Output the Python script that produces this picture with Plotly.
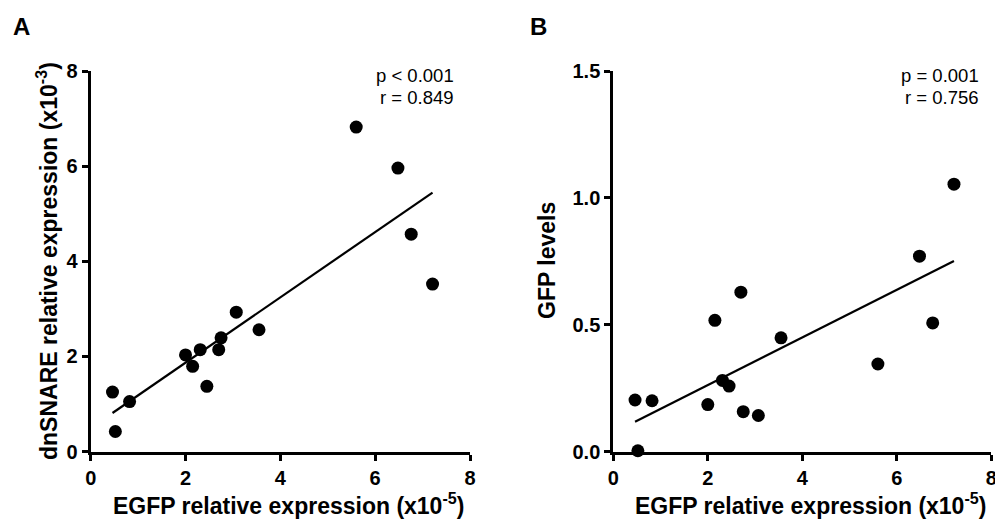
import numpy as np
import plotly.graph_objects as go

# EGFP relative expression (x10^-5), shared by both panels
egfp = [0.46, 0.52, 0.82, 2.00, 2.15, 2.31, 2.45, 2.70, 2.75, 3.07, 3.55, 5.60, 6.48, 6.76, 7.21]
# dnSNARE relative expression (x10^-3)
dnsnare = [1.25, 0.42, 1.05, 2.03, 1.79, 2.14, 1.37, 2.14, 2.39, 2.93, 2.56, 6.82, 5.96, 4.57, 3.52]
# GFP levels
gfp = [0.203, 0.003, 0.200, 0.185, 0.517, 0.280, 0.258, 0.628, 0.157, 0.142, 0.448, 0.345, 0.770, 0.507, 1.054]

stats_a = ["p < 0.001", "r = 0.849"]
stats_b = ["p = 0.001", "r = 0.756"]

FONT = "Liberation Sans, Arial, sans-serif"
W, H = 995, 522

fig = go.Figure()


def add_panel(x, y, xa, ya):
    fig.add_trace(go.Scatter(
        x=x, y=y, mode="markers", xaxis=xa, yaxis=ya,
        marker=dict(size=13, color="black"), cliponaxis=False, showlegend=False))
    slope, icpt = np.polyfit(x, y, 1)
    xs = np.array([min(x), max(x)])
    fig.add_trace(go.Scatter(
        x=xs, y=slope * xs + icpt, mode="lines", xaxis=xa, yaxis=ya,
        line=dict(color="black", width=2.2), showlegend=False))


add_panel(egfp, dnsnare, "x", "y")
add_panel(egfp, gfp, "x2", "y2")

# plot-area bounds in pixels
ax_a = (90.7, 470.0)
ax_b = (613.3, 991.3)
y_top, y_bot = 71.0, 451.5

axis_common = dict(
    showline=True, linecolor="black", linewidth=3,
    ticks="outside", ticklen=6, tickwidth=3, tickcolor="black",
    showgrid=False, zeroline=False, automargin=False, ticklabeloverflow="allow",
    tickfont=dict(family=FONT, size=20, color="black", weight="bold"),
)

ydom = [1 - y_bot / H, 1 - y_top / H]
fig.update_layout(
    width=W, height=H,
    margin=dict(l=0, r=0, t=0, b=0, autoexpand=False),
    paper_bgcolor="white", plot_bgcolor="white",
    font=dict(family=FONT, color="black"),
    xaxis=dict(domain=[ax_a[0] / W, ax_a[1] / W], range=[0, 8], dtick=2, anchor="y", **axis_common),
    yaxis=dict(domain=ydom, range=[0, 8], dtick=2, anchor="x", **axis_common),
    xaxis2=dict(domain=[ax_b[0] / W, ax_b[1] / W], range=[0, 8], dtick=2, anchor="y2", **axis_common),
    yaxis2=dict(domain=ydom, range=[0, 1.5], dtick=0.5, tickformat=".1f", anchor="x2", **axis_common),
)

title_font = dict(family=FONT, size=23, color="black", weight="bold")
ann = []
# axis titles
for cx, txt in [((ax_a[0] + ax_a[1]) / 2 + 8, "EGFP relative expression (x10<sup>-5</sup>)"),
                ((ax_b[0] + ax_b[1]) / 2 + 8, "EGFP relative expression (x10<sup>-5</sup>)")]:
    ann.append(dict(x=cx / W, y=1 - 504 / H, xref="paper", yref="paper", text=txt,
                    showarrow=False, font=title_font, xanchor="center", yanchor="middle"))
ann.append(dict(x=47 / W, y=1 - 261 / H, xref="paper", yref="paper",
                text="dnSNARE relative expression (x10<sup>-3</sup>)", textangle=-90,
                showarrow=False, font=title_font, xanchor="center", yanchor="middle"))
ann.append(dict(x=547 / W, y=1 - 261 / H, xref="paper", yref="paper",
                text="GFP levels", textangle=-90,
                showarrow=False, font=title_font, xanchor="center", yanchor="middle"))
# statistics
stat_font = dict(family=FONT, size=18.5, color="black")
for right_px, lines in [(456, stats_a), (981, stats_b)]:
    for i, line in enumerate(lines):
        ann.append(dict(x=right_px / W, y=1 - (75 + 22 * i) / H, xref="paper", yref="paper",
                        text=line, showarrow=False, font=stat_font,
                        xanchor="right", yanchor="middle"))
# panel letters
for px, letter in [(21, "A"), (538, "B")]:
    ann.append(dict(x=px / W, y=1 - 27 / H, xref="paper", yref="paper", text=letter,
                    showarrow=False, font=dict(family=FONT, size=24, color="black", weight="bold"),
                    xanchor="center", yanchor="middle"))
fig.update_layout(annotations=ann)

fig.write_html("out.html")
